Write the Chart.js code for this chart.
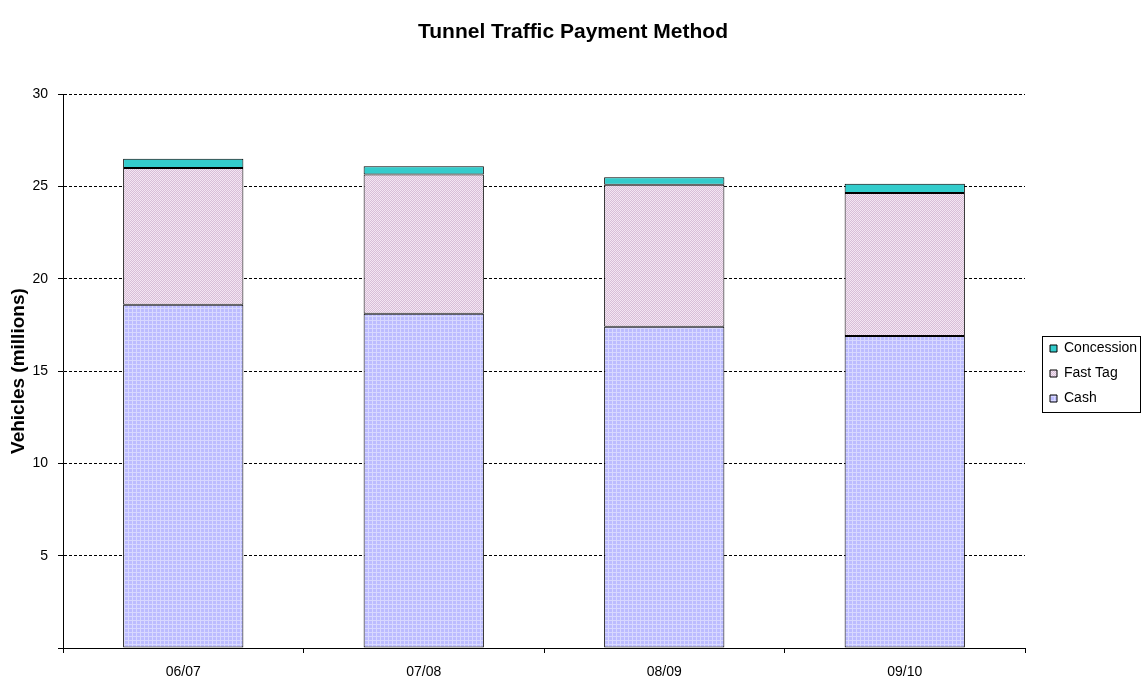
<!DOCTYPE html>
<html>
<head>
<meta charset="utf-8">
<script src="https://cdn.jsdelivr.net/npm/chart.js@4.4.0/dist/chart.umd.min.js"></script>
<style>
html,body{margin:0;padding:0;background:#fff;}
#wrap{width:1146px;height:683px;position:relative;}
</style>
</head>
<body>
<div id="wrap"><canvas id="c" width="1146" height="683"></canvas></div>
<script>
const categories = ["06/07", "07/08", "08/09", "09/10"];
const cashValues = [18.6, 18.1, 17.4, 16.9];
const fastTagValues = [7.4, 7.55, 7.7, 7.75];
const concessionValues = [0.5, 0.45, 0.4, 0.5];
const yTicks = [0, 5, 10, 15, 20, 25, 30];

const LEGEND_WIDTH = 121;
const LEGEND_SHIFT_X = 14;
const LEGEND_SHIFT_Y = 32;

function makePattern(kind) {
  const p = document.createElement('canvas');
  const ctx = p.getContext('2d');
  if (kind === 'cash') {
    p.width = 4; p.height = 4;
    ctx.fillStyle = '#bcbcff'; ctx.fillRect(0, 0, 4, 4);
    ctx.fillStyle = '#d8d8ff'; ctx.fillRect(0, 0, 1, 4); ctx.fillRect(0, 0, 4, 1);
  } else {
    p.width = 2; p.height = 2;
    ctx.fillStyle = '#d8bed8'; ctx.fillRect(0, 0, 2, 2);
    ctx.fillStyle = '#f4e6f2'; ctx.fillRect(0, 0, 1, 1); ctx.fillRect(1, 1, 1, 1);
  }
  return document.getElementById('c').getContext('2d').createPattern(p, 'repeat');
}

const legendTweak = {
  id: 'legendTweak',
  afterInit(chart) {
    const lg = chart.legend;
    const fit = lg.fit.bind(lg);
    lg.fit = function () { fit(); this.width = LEGEND_WIDTH; };
    const draw = lg.draw.bind(lg);
    lg.draw = function (area) {
      const ctx = this.ctx;
      ctx.save();
      ctx.translate(LEGEND_SHIFT_X, LEGEND_SHIFT_Y);
      draw(area);
      const hb = this.legendHitBoxes || [];
      if (hb.length) {
        const l = Math.min(...hb.map(h => h.left)) - 8;
        const r = Math.max(...hb.map(h => h.left + h.width)) + 3;
        const t = Math.min(...hb.map(h => h.top)) - 6;
        const b = Math.max(...hb.map(h => h.top + h.height)) + 6;
        ctx.strokeStyle = '#000';
        ctx.lineWidth = 1;
        ctx.strokeRect(Math.round(l) + 0.5, Math.round(t) + 0.5, Math.round(r - l), Math.round(b - t));
      }
      ctx.restore();
    };
  }
};

Chart.defaults.font.family = 'Arial, "Liberation Sans", sans-serif';
Chart.defaults.color = '#000';

new Chart(document.getElementById('c'), {
  type: 'bar',
  data: {
    labels: categories,
    datasets: [
      { label: 'Cash', data: cashValues, backgroundColor: makePattern('cash') },
      { label: 'Fast Tag', data: fastTagValues, backgroundColor: makePattern('fast') },
      { label: 'Concession', data: concessionValues, backgroundColor: '#33cccc' }
    ].map(d => Object.assign(d, {
      borderColor: '#000', borderWidth: 1, borderSkipped: false,
      categoryPercentage: 1.0, barPercentage: 0.5
    }))
  },
  options: {
    responsive: false,
    animation: false,
    devicePixelRatio: 1,
    layout: { padding: { left: 0, right: 0, top: 0, bottom: 0 } },
    plugins: {
      title: {
        display: true,
        text: 'Tunnel Traffic Payment Method',
        font: { size: 21, weight: 'bold' },
        color: '#000',
        padding: { top: 20, bottom: 49 }
      },
      legend: {
        position: 'right',
        reverse: true,
        labels: {
          boxWidth: 7, boxHeight: 7, padding: 11,
          font: { size: 14 }, color: '#000',
          generateLabels(chart) {
            return chart.data.datasets.map((d, i) => ({
              text: d.label,
              fillStyle: d.backgroundColor,
              strokeStyle: '#000',
              lineWidth: 1,
              hidden: false,
              datasetIndex: i
            }));
          }
        }
      },
      tooltip: { enabled: false }
    },
    scales: {
      x: {
        stacked: true,
        grid: { display: true, drawOnChartArea: false, drawTicks: true, tickLength: 5, color: '#000', offset: true },
        border: { display: true, color: '#000', width: 1 },
        ticks: { font: { size: 14 }, color: '#000', padding: 11 },
        afterFit(s) { s.height = 35; }
      },
      y: {
        stacked: true,
        min: 0, max: 30,
        afterBuildTicks(s) { s.ticks = yTicks.map(v => ({ value: v })); },
        grid: { color: '#000', tickLength: 5, drawTicks: true },
        border: { display: true, color: '#000', width: 1, dash: [3, 2] },
        ticks: { font: { size: 14 }, color: '#000', padding: 10,
          callback(v) { return v === 0 ? '' : v; } },
        title: { display: true, text: 'Vehicles (millions)', font: { size: 19, weight: 'bold' }, color: '#000', padding: { top: 7, bottom: 0 } },
        afterFit(s) { s.width = 63; }
      }
    }
  },
  plugins: [legendTweak]
});
</script>
</body>
</html>
